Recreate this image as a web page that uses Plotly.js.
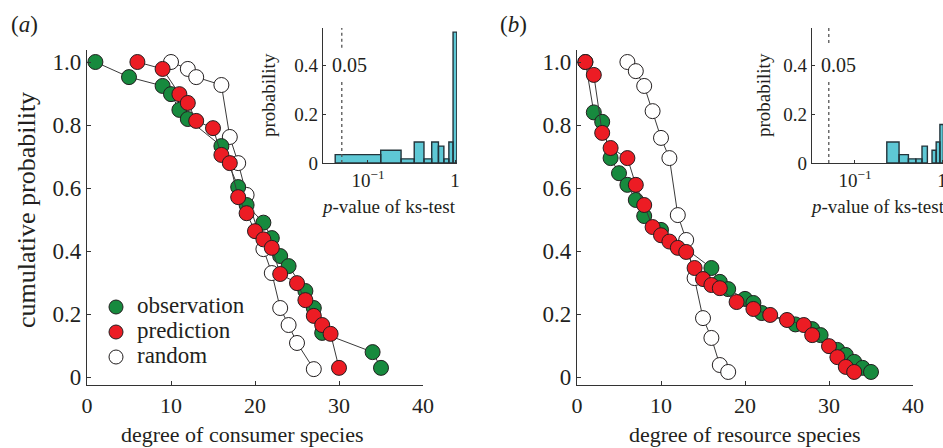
<!DOCTYPE html>
<html><head><meta charset="utf-8">
<script src="https://cdn.plot.ly/plotly-3.0.1.min.js"></script>
<style>html,body{margin:0;padding:0;background:#fff}#chart{width:943px;height:448px}</style>
</head><body><div id="chart"></div>
<script>
// ---- panel (a): consumer species ----
const consObsDeg  = [1, 5, 9, 10, 11, 12, 16, 18, 19, 21, 22, 23, 24, 26, 27, 28, 34, 35];
const consObsCum  = [1.0, 0.952, 0.924, 0.898, 0.848, 0.819, 0.733, 0.603, 0.546, 0.49, 0.441, 0.384, 0.352, 0.273, 0.219, 0.14, 0.079, 0.029];
const consPredDeg = [6, 9, 11, 12, 13, 15, 16, 17, 18, 19, 20, 21, 22, 23, 25, 26, 27, 28, 29, 30];
const consPredCum = [1.0, 0.978, 0.898, 0.87, 0.813, 0.79, 0.705, 0.679, 0.571, 0.52, 0.463, 0.437, 0.41, 0.327, 0.298, 0.244, 0.194, 0.165, 0.137, 0.029];
const consRandDeg = [10, 12, 13, 16, 17, 18, 19, 21, 22, 23, 24, 25, 27];
const consRandCum = [1.0, 0.978, 0.952, 0.927, 0.762, 0.679, 0.578, 0.406, 0.33, 0.219, 0.165, 0.108, 0.025];
// ---- panel (b): resource species ----
const resObsDeg  = [1, 2, 3, 4, 5, 6, 7, 8, 10, 16, 17, 18, 20, 21, 22, 26, 28, 29, 31, 32, 33, 34, 35];
const resObsCum  = [1.0, 0.84, 0.81, 0.695, 0.647, 0.61, 0.562, 0.511, 0.467, 0.346, 0.302, 0.279, 0.248, 0.235, 0.203, 0.167, 0.152, 0.133, 0.086, 0.07, 0.048, 0.029, 0.016];
const resPredDeg = [1, 2, 3, 4, 6, 7, 8, 9, 10, 11, 12, 13, 14, 15, 16, 17, 19, 21, 23, 25, 27, 28, 30, 31, 32, 33];
const resPredCum = [1.0, 0.959, 0.775, 0.727, 0.695, 0.61, 0.546, 0.476, 0.45, 0.43, 0.41, 0.397, 0.346, 0.311, 0.292, 0.282, 0.238, 0.216, 0.197, 0.181, 0.165, 0.133, 0.098, 0.063, 0.032, 0.016];
const resRandDeg = [6, 7, 8, 9, 10, 11, 12, 13, 14, 15, 16, 17, 18];
const resRandCum = [1.0, 0.971, 0.924, 0.844, 0.759, 0.695, 0.514, 0.435, 0.314, 0.187, 0.124, 0.038, 0.016];
// ---- inset histograms: p-value of ks-test ----
const ksEdgesA = [0.042, 0.14, 0.24, 0.34, 0.44, 0.54, 0.645, 0.745, 0.85, 0.95, 1.05];
const ksProbA  = [0.034, 0.052, 0.017, 0.086, 0.017, 0.086, 0.069, 0.017, 0.086, 0.534];
const ksEdgesB = [0.232, 0.321, 0.411, 0.5, 0.589, 0.679, 0.768, 0.857, 0.946, 1.036];
const ksProbB  = [0.086, 0.034, 0.017, 0.017, 0.069, 0, 0.052, 0.086, 0.157];
const pThreshold = 0.05;
const legendNames = ['observation', 'prediction', 'random'];
const yTickVals = [0, 0.2, 0.4, 0.6, 0.8, 1.0];
const yTickText = ['0', '0.2', '0.4', '0.6', '0.8', '1.0'];
const xTickVals = [0, 10, 20, 30, 40];

const FONT = "'Liberation Serif', 'Times New Roman', serif";
const TXT = '#231f20';
const GREEN = '#178a3e', RED = '#ec1c24', WHITE = '#ffffff', EDGE = '#231f20';
const legendFills = [GREEN, RED, WHITE];
const W = 943, H = 448;
const px = v => v / W, py = v => 1 - v / H;

function series(x, y, name, fill, xa, ya) {
  return {x, y, name, type: 'scatter', mode: 'lines+markers', xaxis: xa, yaxis: ya,
    showlegend: false, cliponaxis: false,
    line: {color: '#3a3a3a', width: 1},
    marker: {size: 15, color: fill, line: {color: EDGE, width: 1}}};
}
function hist(edges, probs, xa, ya) {
  const x = [], y = [];
  probs.forEach((p, i) => {
    if (p <= 0) return;
    x.push(edges[i], edges[i], edges[i+1], edges[i+1], edges[i], null);
    y.push(0, p, p, 0, 0, null);
  });
  return {x, y, type: 'scatter', mode: 'lines', fill: 'toself', xaxis: xa, yaxis: ya,
    fillcolor: '#5ec8d5', line: {color: '#24343b', width: 1.4}, showlegend: false, hoverinfo: 'skip'};
}
function vline(xa, ya, top, gapLo, gapHi) {
  return {x: [pThreshold, pThreshold, null, pThreshold, pThreshold], y: [0, gapLo, null, gapHi, top],
    type: 'scatter', mode: 'lines', xaxis: xa, yaxis: ya, showlegend: false,
    line: {color: '#555', width: 1.3, dash: 'dot'}, hoverinfo: 'skip'};
}

const data = [
  series(consRandDeg, consRandCum, 'random', WHITE, 'x', 'y'),
  series(consObsDeg, consObsCum, 'observation', GREEN, 'x', 'y'),
  series(consPredDeg, consPredCum, 'prediction', RED, 'x', 'y'),
  series(resRandDeg, resRandCum, 'random', WHITE, 'x2', 'y2'),
  series(resObsDeg, resObsCum, 'observation', GREEN, 'x2', 'y2'),
  series(resPredDeg, resPredCum, 'prediction', RED, 'x2', 'y2'),
  hist(ksEdgesA, ksProbA, 'x3', 'y3'),
  vline('x3', 'y3', 0.551, 0.339, 0.47),
  hist(ksEdgesB, ksProbB, 'x4', 'y4'),
  vline('x4', 'y4', 0.551, 0.339, 0.49)
];

const mainY = [(377 - 385) / 315, (377 - 50) / 315];
const yDom = [py(385), py(50)];
const inY = [py(163), py(28)];
function mainX(dom) {
  return {domain: dom, range: [0, 40], tickvals: xTickVals, ticks: 'inside', ticklen: 4, tickcolor: '#333',
    showline: true, linecolor: '#333', linewidth: 1.2, showgrid: false, zeroline: false,
    tickfont: {family: FONT, size: 22, color: TXT}, fixedrange: true};
}
function mainYAx(anchor) {
  return {domain: yDom, range: mainY, anchor, tickvals: yTickVals, ticktext: yTickText, ticks: 'inside', ticklen: 4,
    tickcolor: '#333', showline: true, linecolor: '#333', linewidth: 1.2, showgrid: false, zeroline: false,
    tickfont: {family: FONT, size: 23, color: TXT}, fixedrange: true};
}
function inX(dom, rng, anchor) {
  return {domain: dom, range: rng, type: 'log', anchor, tickvals: [0.1, 1], ticktext: ['10<sup>−1</sup>', '1'],
    ticks: 'inside', ticklen: 3, tickcolor: '#333', showline: true, linecolor: '#333', linewidth: 1.2,
    ticklabeloverflow: 'allow',
    showgrid: false, zeroline: false, tickfont: {family: FONT, size: 19, color: TXT}, fixedrange: true};
}
function inYAx(anchor) {
  return {domain: inY, range: [0, 0.551], anchor, tickvals: [0, 0.2, 0.4], ticktext: ['0', '0.2', '0.4'],
    ticks: 'inside', ticklen: 3, tickcolor: '#333', showline: true, linecolor: '#333', linewidth: 1.2,
    showgrid: false, zeroline: false, tickfont: {family: FONT, size: 19, color: TXT}, fixedrange: true};
}

function ann(text, x, y, size, extra) {
  return Object.assign({text, x: px(x), y: py(y), xref: 'paper', yref: 'paper', showarrow: false,
    xanchor: 'center', yanchor: 'middle', font: {family: FONT, size, color: TXT}}, extra || {});
}

// custom legend (compact spacing like the reference)
const legendShapes = legendFills.map((c, i) => ({
  type: 'circle', xref: 'paper', yref: 'paper', xsizemode: 'pixel', ysizemode: 'pixel',
  xanchor: px(116), yanchor: py(307 + 25 * i), x0: -7, x1: 7, y0: -7, y1: 7,
  fillcolor: c, line: {color: EDGE, width: 1}
}));
const legendTexts = legendNames.map((n, i) => ann(n, 135, 305 + 25 * i, 23, {xanchor: 'left'}));

const layout = {
  width: W, height: H, margin: {l: 0, r: 0, t: 0, b: 0},
  paper_bgcolor: '#fff', plot_bgcolor: 'rgba(0,0,0,0)',
  font: {family: FONT, color: TXT},
  xaxis: mainX([px(87), px(423)]),
  yaxis: mainYAx('x'),
  xaxis2: mainX([px(577), px(913)]),
  yaxis2: mainYAx('x2'),
  xaxis3: inX([px(323), px(457)], [-1.517, 0.023], 'y3'),
  yaxis3: inYAx('x3'),
  xaxis4: inX([px(812), 1], [-1.494, 0.0115], 'y4'),
  yaxis4: inYAx('x4'),
  showlegend: false,
  shapes: legendShapes,
  annotations: [
    ann('(<i>a</i>)', 24, 24, 23),
    ann('(<i>b</i>)', 513, 24, 23),
    ann('cumulative probability', 26, 210, 26, {textangle: -90}),
    ann('degree of consumer species', 243, 434, 22),
    ann('degree of resource species', 744, 434, 22),
    ann('probability', 269, 95, 19, {textangle: -90}),
    ann('probability', 764, 95, 19, {textangle: -90}),
    ann('<i>p</i>-value of ks-test', 388, 206, 19),
    ann('<i>p</i>-value of ks-test', 877, 206, 19),
    {text: '0.05', x: -1.218, y: 0.40, xref: 'x3', yref: 'y3', showarrow: false, xanchor: 'center', yanchor: 'middle',
      font: {family: FONT, size: 20, color: TXT}},
    {text: '0.05', x: -1.184, y: 0.40, xref: 'x4', yref: 'y4', showarrow: false, xanchor: 'center', yanchor: 'middle',
      font: {family: FONT, size: 20, color: TXT}}
  ].concat(legendTexts)
};

Plotly.newPlot('chart', data, layout, {staticPlot: true, displayModeBar: false});
</script></body></html>
